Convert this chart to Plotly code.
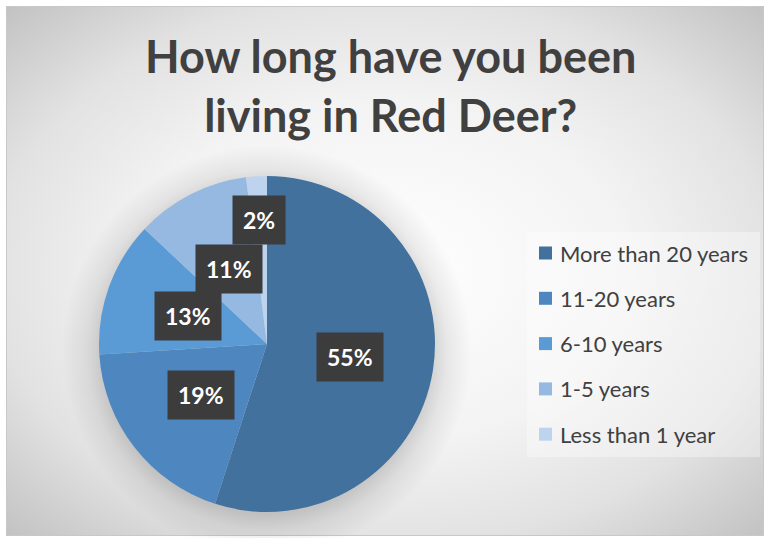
import base64
import math
import plotly.graph_objects as go

# ---- data ----
categories = ["More than 20 years", "11-20 years", "6-10 years", "1-5 years", "Less than 1 year"]
values = [55, 19, 13, 11, 2]
colors = ["#41719c", "#4e87c0", "#5b9bd5", "#95b9e1", "#bdd3ee"]
title_text = "How long have you been<br>living in Red Deer?"

# ---- layout constants (pixels) ----
W, H = 765, 538
CX, CY, R = 267, 344, 168
label_radius = [0.5, 0.5, 0.5, 0.5, 0.74]
FONT = "Lato"

# background: radial gradient chart area + soft pie shadow
svg = f'''<svg xmlns="http://www.w3.org/2000/svg" width="{W}" height="{H}" viewBox="0 0 {W} {H}" preserveAspectRatio="none">
<defs>
<radialGradient id="bg" cx="0.5" cy="0.5" r="0.72">
<stop offset="0" stop-color="#ffffff"/>
<stop offset="0.45" stop-color="#f3f3f3"/>
<stop offset="0.72" stop-color="#e2e2e2"/>
<stop offset="1" stop-color="#c0c0c0"/>
</radialGradient>
<radialGradient id="sh" cx="0.5" cy="0.5" r="0.5">
<stop offset="0.80" stop-color="#000000" stop-opacity="0.16"/>
<stop offset="0.88" stop-color="#000000" stop-opacity="0.07"/>
<stop offset="1" stop-color="#000000" stop-opacity="0"/>
</radialGradient>
</defs>
<rect x="0" y="0" width="{W}" height="{H}" fill="#ffffff"/>
<rect x="6.5" y="6.5" width="{W-8}" height="{H-9}" fill="url(#bg)" stroke="#c8c8c8" stroke-width="1"/>
<circle cx="{CX}" cy="{CY+6}" r="{R/0.82:.1f}" fill="url(#sh)"/>
<rect x="527" y="232" width="233" height="225" fill="#ffffff" fill-opacity="0.35"/>
</svg>'''
svg_uri = "data:image/svg+xml;base64," + base64.b64encode(svg.encode()).decode()

dx0, dx1 = (CX - R) / W, (CX + R) / W
dy0, dy1 = 1 - (CY + R) / H, 1 - (CY - R) / H

fig = go.Figure(go.Pie(
    labels=categories,
    values=values,
    marker=dict(colors=colors, line=dict(width=0)),
    sort=False,
    direction="clockwise",
    rotation=0,
    textinfo="none",
    hoverinfo="label+percent",
    domain=dict(x=[dx0, dx1], y=[dy0, dy1]),
    showlegend=False,
))

annotations = []
shapes = []
total = sum(values)
cum = 0
pcx, pcy = (dx0 + dx1) / 2, (dy0 + dy1) / 2
for i, v in enumerate(values):
    mid = (cum + v / 2) / total
    cum += v
    th = 2 * math.pi * mid
    k = label_radius[i]
    annotations.append(dict(
        x=pcx + k * (R / W) * math.sin(th),
        y=pcy + k * (R / H) * math.cos(th),
        xref="paper", yref="paper",
        xanchor="center", yanchor="middle",
        text=f"<b>{round(100 * v / total)}%</b>",
        showarrow=False,
        font=dict(family=FONT, size=23, color="#ffffff"),
        bgcolor="#3c3c3c",
        borderpad=10,
    ))

# title
annotations.append(dict(
    x=391 / W, y=1 - 85 / H, xref="paper", yref="paper",
    xanchor="center", yanchor="middle", showarrow=False,
    text=f"<b>{title_text}</b>",
    font=dict(family=FONT, size=45, color="#404040"),
))

# custom legend
LX, LY0, LSTEP = 539, 253, 45.3
for i, (c, col) in enumerate(zip(categories, colors)):
    yc = LY0 + i * LSTEP
    shapes.append(dict(type="rect", xref="paper", yref="paper",
                       x0=LX / W, x1=(LX + 13) / W,
                       y0=1 - (yc + 6.5) / H, y1=1 - (yc - 6.5) / H,
                       fillcolor=col, line=dict(width=0)))
    annotations.append(dict(
        x=(LX + 19) / W, y=1 - yc / H, xref="paper", yref="paper",
        xanchor="left", yanchor="middle", showarrow=False,
        text=c, font=dict(family=FONT, size=22, color="#404040"),
    ))

fig.update_layout(
    width=W, height=H,
    margin=dict(l=0, r=0, t=0, b=0),
    paper_bgcolor="#ffffff",
    images=[dict(source=svg_uri, xref="paper", yref="paper", x=0, y=1,
                 sizex=1, sizey=1, xanchor="left", yanchor="top",
                 sizing="stretch", layer="below")],
    annotations=annotations,
    shapes=shapes,
)

fig.write_html("out.html")
